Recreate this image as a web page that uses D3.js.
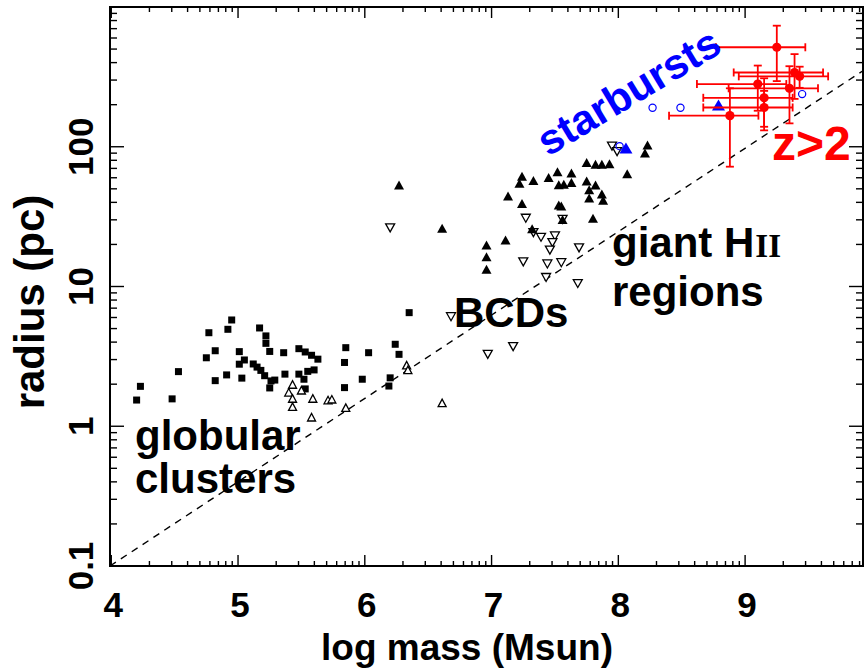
<!DOCTYPE html>
<html>
<head>
<meta charset="utf-8">
<script src="https://cdn.jsdelivr.net/npm/d3@7"></script>
<style>
  html, body { margin: 0; padding: 0; background: #fff; }
  svg { display: block; }
  text { font-family: "Liberation Sans", Arial, sans-serif; font-weight: bold; }
</style>
</head>
<body>
<svg id="chart" width="865" height="669"></svg>
<script>
// ---- data: [log mass (Msun), radius (pc)] ----
const globularClusters = [
  [4.95, 5.76], [4.92, 4.94], [4.77, 4.67], [5.17, 5.05], [5.22, 4.43], [5.22, 3.92],
  [4.82, 3.47], [5.01, 3.42], [5.25, 3.43], [5.36, 3.36], [5.48, 3.59], [5.53, 3.40],
  [5.58, 3.22], [5.63, 3.02], [5.85, 3.65], [6.03, 3.36], [4.75, 3.09], [5.05, 2.98],
  [5.01, 2.78], [5.12, 2.79], [5.15, 2.65], [5.18, 2.51], [5.21, 2.30], [5.26, 2.11],
  [5.25, 1.88], [5.37, 2.36], [5.48, 2.36], [5.55, 2.47], [5.60, 2.53], [5.52, 2.17],
  [5.53, 1.85], [4.91, 2.33], [5.03, 2.21], [4.82, 2.12], [4.53, 2.46], [4.23, 1.93],
  [4.48, 1.57], [4.20, 1.54], [5.84, 2.86], [5.84, 1.89], [5.98, 2.17], [6.20, 2.22],
  [6.19, 1.94], [6.24, 3.86], [6.27, 3.27], [6.35, 6.50], [5.29, 2.14]
];
const youngClusters = [
  [5.43, 1.99], [5.40, 1.75], [5.50, 1.81], [5.43, 1.58], [5.43, 1.38], [5.59, 1.58],
  [5.71, 1.54], [5.74, 1.56], [5.85, 1.36], [5.58, 1.16], [6.33, 2.74], [6.34, 2.53],
  [6.61, 1.47]
];
const bcdRegions = [
  [6.20, 26.3], [6.68, 6.08], [7.27, 30.8], [7.33, 24.3], [7.39, 22.5], [7.50, 23.0],
  [7.48, 20.6], [7.46, 18.2], [7.25, 15.0], [7.44, 14.5], [7.55, 14.8], [7.43, 11.6],
  [7.69, 18.9], [7.68, 10.5], [7.56, 30.2], [7.95, 101], [7.99, 92.2], [7.17, 3.71],
  [6.97, 3.27]
];
const giantHII = [
  [6.27, 53.3], [6.61, 26.1], [6.96, 19.8], [6.96, 16.3], [6.96, 13.3], [7.11, 21.5],
  [7.13, 44.4], [7.24, 39.2], [7.22, 54.8], [7.24, 61.4], [7.33, 57.4], [7.45, 60.3],
  [7.52, 66.3], [7.53, 53.5], [7.57, 54.0], [7.63, 64.9], [7.63, 55.5], [7.53, 38.3],
  [7.55, 37.7], [7.56, 30.2], [7.32, 25.9], [7.75, 77.1], [7.82, 74.9], [7.87, 74.9],
  [7.93, 75.7], [7.75, 56.9], [7.82, 53.3], [7.77, 49.3], [7.77, 43.0], [7.87, 45.9],
  [7.88, 41.4], [7.80, 30.8], [8.07, 64.2], [8.23, 103], [8.21, 90.2]
];
const starburstTriangles = [[8.06, 98.0], [8.79, 199]];
const starburstCircles = [[8.01, 101], [8.27, 190], [8.49, 190], [9.45, 238]];

// high-redshift clumps with errors
const zMass    = [9.25, 9.39, 9.43, 9.10, 9.35, 9.15, 9.15, 8.88];
const zRadius  = [515, 340, 319, 281, 262, 224, 191, 167];
const zRadErr  = [220, 120, 55, 100, 115, 85, 60, 95];
const zMassErrLo = 0.48;
const zMassErrHi = 0.225;

// reference scaling line
const scalingLine = [[3.99, 0.1], [9.93, 350]];

// axes
const xTickValues = [4, 5, 6, 7, 8, 9];
const yTickValues = [0.1, 1, 10, 100];
const yTickLabels = ["0.1", "1", "10", "100"];

// ---- layout ----
const svg = d3.select("#chart");
const plotLeft = 110, plotRight = 863, plotTop = 7, plotBottom = 566;
const x = d3.scaleLinear().domain([3.99, 9.93]).range([plotLeft, plotRight]);
const y = d3.scaleLog().domain([0.1, 1000]).range([plotBottom, plotTop]);

const frame = svg.append("g");

// minor ticks: log-spaced inside each unit of log mass, 2..9 per decade on radius
const xMinor = [];
for (let k = 3; k <= 9; k++) for (let m = 2; m <= 9; m++) {
  const v = k + Math.log10(m);
  if (v > x.domain()[0] && v < x.domain()[1]) xMinor.push(v);
}
const yMinor = [];
for (let e = -1; e <= 2; e++) for (let m = 2; m <= 9; m++) yMinor.push(m * Math.pow(10, e));

const tick = frame.append("g").attr("stroke", "#000").attr("stroke-width", 1.4);
function xTicks(vals, len) {
  vals.forEach(v => {
    tick.append("line").attr("x1", x(v)).attr("x2", x(v)).attr("y1", plotBottom).attr("y2", plotBottom - len);
    tick.append("line").attr("x1", x(v)).attr("x2", x(v)).attr("y1", plotTop).attr("y2", plotTop + len);
  });
}
function yTicks(vals, len) {
  vals.forEach(v => {
    tick.append("line").attr("y1", y(v)).attr("y2", y(v)).attr("x1", plotLeft).attr("x2", plotLeft + len);
    tick.append("line").attr("y1", y(v)).attr("y2", y(v)).attr("x1", plotRight).attr("x2", plotRight - len);
  });
}
xTicks(xTickValues, 11);
xTicks(xMinor, 5);
yTicks(yTickValues, 14);
yTicks(yMinor, 7);

frame.append("rect")
  .attr("x", plotLeft).attr("y", plotTop)
  .attr("width", plotRight - plotLeft).attr("height", plotBottom - plotTop)
  .attr("fill", "none").attr("stroke", "#000").attr("stroke-width", 2);

// tick labels
svg.append("g").selectAll("text").data(xTickValues).join("text")
  .attr("x", d => x(d) + 2).attr("y", 617)
  .attr("text-anchor", "middle").attr("font-size", 35)
  .text(d => d);

svg.append("g").selectAll("text").data(yTickValues).join("text")
  .attr("transform", d => `translate(93,${y(d)}) rotate(-90)`)
  .attr("text-anchor", "middle").attr("font-size", 35)
  .text((d, i) => yTickLabels[i]);

// axis titles
svg.append("text")
  .attr("x", 467).attr("y", 660)
  .attr("text-anchor", "middle").attr("font-size", 37)
  .text("log mass (Msun)");
svg.append("text")
  .attr("transform", `translate(44,302) rotate(-90)`)
  .attr("text-anchor", "middle").attr("font-size", 42)
  .text("radius (pc)");

// ---- marks ----
const plot = svg.append("g");

plot.append("path")
  .attr("d", d3.line().x(d => x(d[0])).y(d => y(d[1]))(scalingLine))
  .attr("fill", "none").attr("stroke", "#000").attr("stroke-width", 1.4)
  .attr("stroke-dasharray", "7,6");

function triUp(cx, cy, w, h) {
  return `M${cx - w / 2},${cy + h / 2}L${cx + w / 2},${cy + h / 2}L${cx},${cy - h / 2}Z`;
}
function triDown(cx, cy, w, h) {
  return `M${cx - w / 2},${cy - h / 2}L${cx + w / 2},${cy - h / 2}L${cx},${cy + h / 2}Z`;
}

// globular clusters: filled squares
plot.append("g").selectAll("rect").data(globularClusters).join("rect")
  .attr("x", d => x(d[0]) - 3.5).attr("y", d => y(d[1]) - 3.5)
  .attr("width", 7).attr("height", 7).attr("fill", "#000");

// young massive clusters: open up-triangles
plot.append("g").selectAll("path").data(youngClusters).join("path")
  .attr("d", d => triUp(x(d[0]), y(d[1]), 8, 7.5))
  .attr("fill", "#fff").attr("stroke", "#000").attr("stroke-width", 1.3);

// BCD regions: open down-triangles
plot.append("g").selectAll("path").data(bcdRegions).join("path")
  .attr("d", d => triDown(x(d[0]), y(d[1]), 9, 8))
  .attr("fill", "#fff").attr("stroke", "#000").attr("stroke-width", 1.3);

// giant HII regions: filled up-triangles
plot.append("g").selectAll("path").data(giantHII).join("path")
  .attr("d", d => triUp(x(d[0]), y(d[1]), 10, 9))
  .attr("fill", "#000");

// starbursts
plot.append("g").selectAll("circle").data(starburstCircles).join("circle")
  .attr("cx", d => x(d[0])).attr("cy", d => y(d[1])).attr("r", 3.6)
  .attr("fill", "none").attr("stroke", "#0000ff").attr("stroke-width", 1.2);
plot.append("g").selectAll("path").data(starburstTriangles).join("path")
  .attr("d", d => triUp(x(d[0]), y(d[1]), 13, 11))
  .attr("fill", "#0000ff");

// z>2 clumps with error bars
const zData = zMass.map((m, i) => ({ m, r: zRadius[i], e: zRadErr[i] }));
const zg = plot.append("g").attr("stroke", "#ff0000").attr("stroke-width", 1.8);
const cap = 4;
zData.forEach(d => {
  const cx = x(d.m), cy = y(d.r);
  const xl = x(d.m - zMassErrLo), xr = x(d.m + zMassErrHi);
  const yt = y(d.r + d.e), yb = y(d.r - d.e);
  zg.append("line").attr("x1", xl).attr("x2", xr).attr("y1", cy).attr("y2", cy);
  zg.append("line").attr("x1", xl).attr("x2", xl).attr("y1", cy - cap).attr("y2", cy + cap);
  zg.append("line").attr("x1", xr).attr("x2", xr).attr("y1", cy - cap).attr("y2", cy + cap);
  zg.append("line").attr("x1", cx).attr("x2", cx).attr("y1", yt).attr("y2", yb);
  zg.append("line").attr("x1", cx - cap).attr("x2", cx + cap).attr("y1", yt).attr("y2", yt);
  zg.append("line").attr("x1", cx - cap).attr("x2", cx + cap).attr("y1", yb).attr("y2", yb);
});
plot.append("g").selectAll("circle").data(zData).join("circle")
  .attr("cx", d => x(d.m)).attr("cy", d => y(d.r)).attr("r", 4.6)
  .attr("fill", "#ff0000");

// ---- annotations ----
const notes = svg.append("g").attr("font-size", 42);
notes.append("text").attr("x", 135).attr("y", 450).text("globular");
notes.append("text").attr("x", 135).attr("y", 493).text("clusters");
notes.append("text").attr("x", 454).attr("y", 327).text("BCDs");
const hii = notes.append("text").attr("x", 612).attr("y", 257);
hii.append("tspan").text("giant H");
hii.append("tspan").attr("font-family", "'Liberation Serif', 'Times New Roman', serif")
  .attr("font-size", 33).attr("dx", 1).text("II");
notes.append("text").attr("x", 612).attr("y", 306).text("regions");
notes.append("text").attr("x", 772).attr("y", 160).attr("font-size", 48)
  .attr("fill", "#ff0000").text("z>2");
notes.append("text").attr("transform", "translate(548,157) rotate(-31)")
  .attr("font-size", 42).attr("fill", "#0000ff").text("starbursts");
</script>
</body>
</html>
